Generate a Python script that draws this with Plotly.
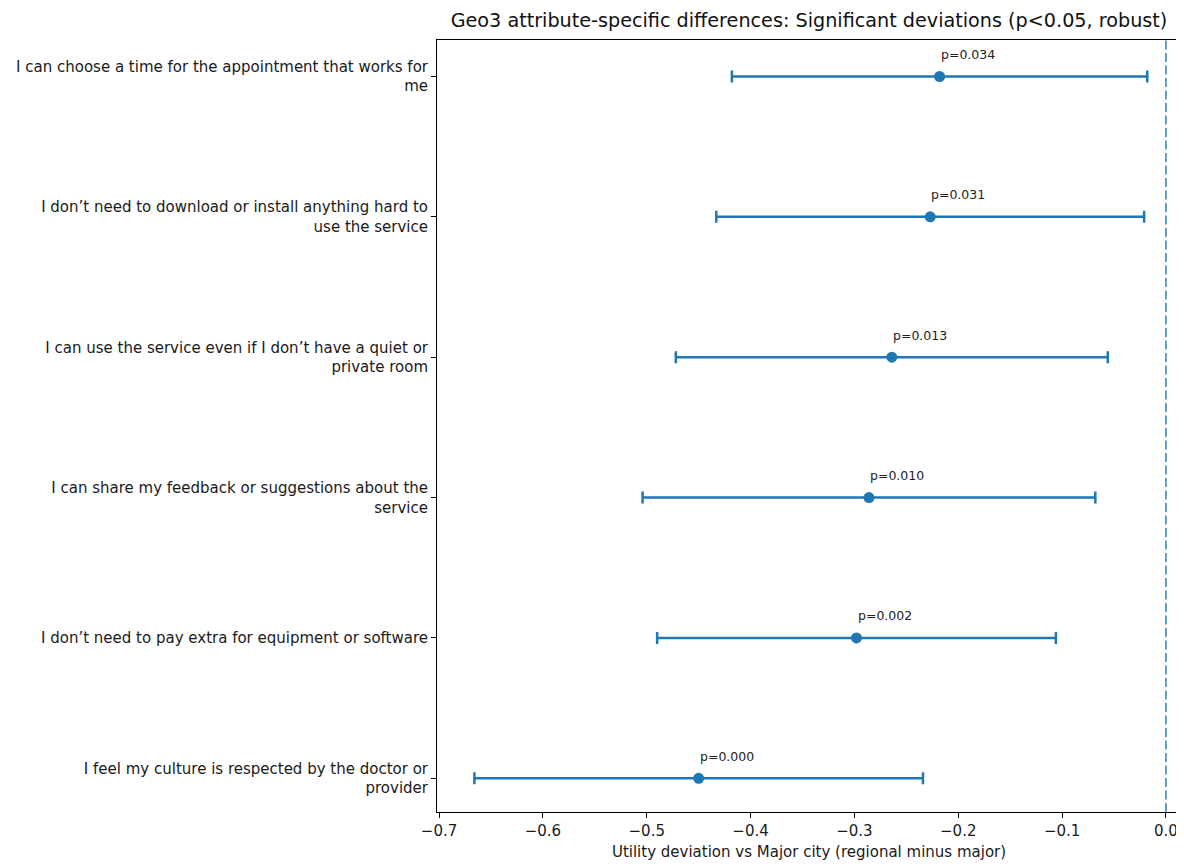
import plotly.graph_objects as go

labels = [
    "I can choose a time for the appointment that works for<br>me",
    "I don’t need to download or install anything hard to<br>use the service",
    "I can use the service even if I don’t have a quiet or<br>private room",
    "I can share my feedback or suggestions about the<br>service",
    "I don’t need to pay extra for equipment or software",
    "I feel my culture is respected by the doctor or<br>provider",
]
estimates = [-0.218, -0.227, -0.264, -0.286, -0.298, -0.450]
ci_half = [0.200, 0.206, 0.208, 0.218, 0.192, 0.216]
p_values = ["0.034", "0.031", "0.013", "0.010", "0.002", "0.000"]
ypos = [5, 4, 3, 2, 1, 0]
xticks = [-0.7, -0.6, -0.5, -0.4, -0.3, -0.2, -0.1, 0.0]

color = "#1f77b4"
font = "DejaVu Sans"

fig = go.Figure()
fig.add_trace(go.Scatter(
    x=estimates, y=ypos, mode="markers",
    marker=dict(color=color, size=11),
    error_x=dict(type="data", array=ci_half, visible=True,
                 color=color, thickness=2.5, width=6),
    showlegend=False,
))

fig.add_shape(type="line", x0=0, x1=0, y0=0, y1=1, xref="x", yref="paper",
              line=dict(color=color, width=1.4, dash="9px,3.5px"))

for x, y, p in zip(estimates, ypos, p_values):
    fig.add_annotation(x=x, y=y, text=f"p={p}", showarrow=False,
                       xanchor="left", yanchor="middle", yshift=22, xshift=-1,
                       font=dict(family=font, size=12.5, color="#222"))

fig.update_layout(
    width=1176, height=858,
    margin=dict(l=429, r=3, t=32, b=54),
    paper_bgcolor="white", plot_bgcolor="white",
    font=dict(family=font, size=15, color="#1a1a1a"),
    title=dict(text="Geo3 attribute-specific differences: Significant deviations (p<0.05, robust)",
               x=0.5, xref="paper", xanchor="center", y=1, yref="container",
               yanchor="top", pad=dict(t=6),
               font=dict(family=font, size=19.2, color="#111")),
)
fig.update_xaxes(
    range=[-0.702, 0.0145], tickvals=xticks, tickformat=".1f",
    showgrid=False, zeroline=False, showline=True, linecolor="black",
    linewidth=1, mirror=True, ticks="outside", ticklen=5, tickcolor="black",
    automargin=False,
    title=dict(text="Utility deviation vs Major city (regional minus major)",
               standoff=7, font=dict(size=15)),
    tickfont=dict(size=15),
)
fig.update_yaxes(
    range=[-0.24, 5.26], tickvals=ypos, ticktext=labels,
    showgrid=False, zeroline=False, showline=True, linecolor="black",
    linewidth=1, mirror=True, ticks="outside", ticklen=5, tickcolor="black",
    automargin=False,
    tickfont=dict(size=15),
)

fig.write_html("out.html")
